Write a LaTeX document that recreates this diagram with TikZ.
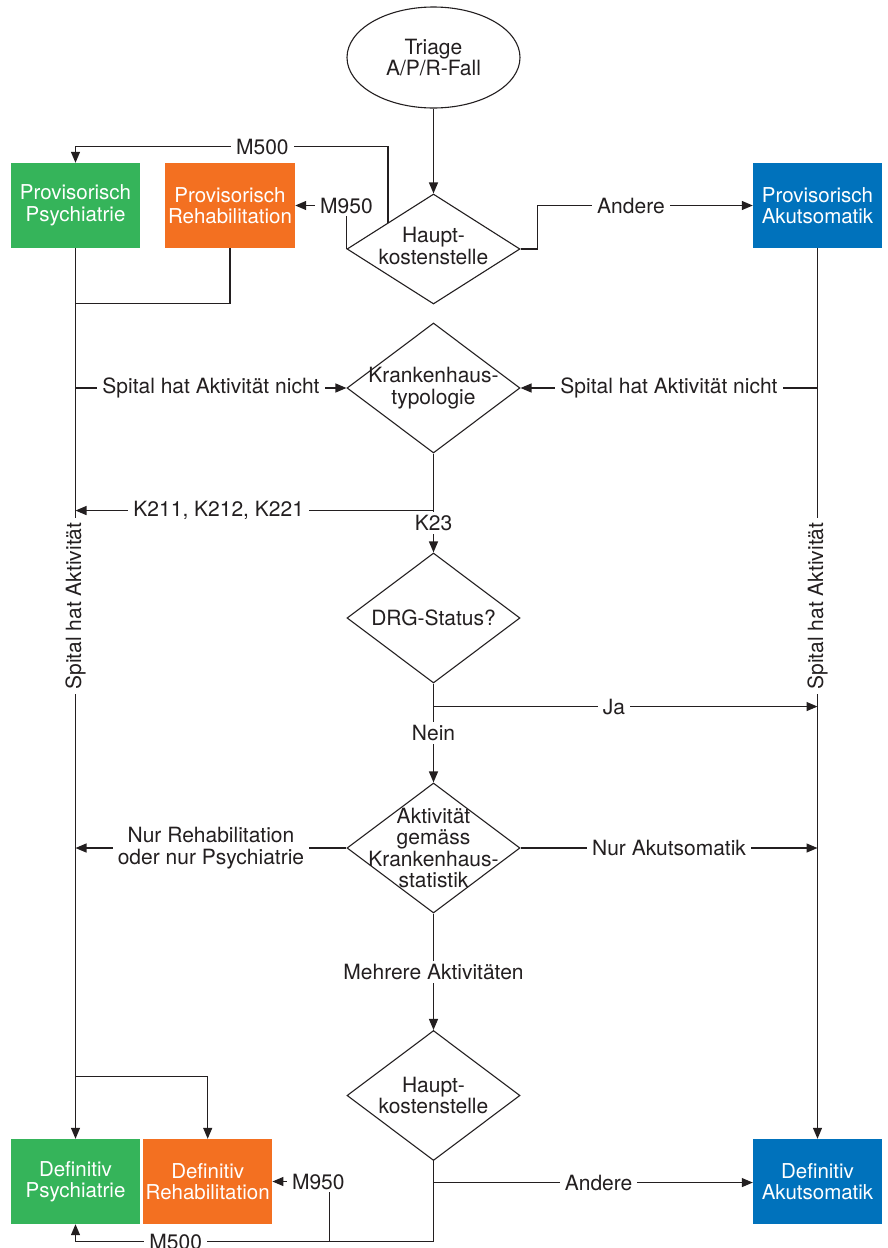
\documentclass[tikz,border=0pt]{standalone}
\usepackage{fontspec}
\setmainfont{TeX Gyre Heros}
\usetikzlibrary{shapes.geometric,arrows.meta,calc}
\definecolor{ink}{HTML}{231F20}
\definecolor{psy}{HTML}{35B45A}
\definecolor{reha}{HTML}{F37021}
\definecolor{akut}{HTML}{0072BC}
\begin{document}
\begin{tikzpicture}[x=1pt,y=-1pt,
  every node/.style={font=\fontsize{21}{21.5}\selectfont, text=ink},
  conn/.style={draw=ink, line width=1.2pt},
  arr/.style={conn, -{Triangle[length=11pt,width=9pt]}},
  lbl/.style={fill=white, inner xsep=5pt, inner ysep=3pt, align=center},
  box/.style={rectangle, minimum width=129pt, minimum height=85pt, inner sep=0pt, text=white, align=center, font=\fontsize{20.5}{21.5}\selectfont},
  dia/.style={diamond, draw=ink, line width=1.1pt, fill=white, minimum width=173pt, minimum height=130pt, inner sep=0pt},
  dtxt/.style={align=center, inner sep=0pt},
  ell/.style={ellipse, draw=ink, line width=1.1pt, fill=white, minimum width=173pt, minimum height=101pt, inner sep=0pt, align=center}]

\useasboundingbox (0,0) rectangle (888,1248);

% decision chain down the middle
\node[ell] (triage) at (433.5,57.5) {Triage\\A/P/R-Fall};
\node[dia, minimum height=110pt] (d1) at (433.5,249) {};
\node[dtxt] (d1t) at (433.5,246) {Haupt-\\kostenstelle};
\node[dia] (d2) at (433.5,388) {};
\node[dtxt] (d2t) at (d2) {Krankenhaus-\\typologie};
\node[dia] (d3) at (433.5,618) {};
\node[dtxt] (d3t) at (d3) {DRG-Status?};
\node[dia] (d4) at (433.5,848) {};
\node[dtxt] (d4t) at (d4) {Aktivität\\gemäss\\Krankenhaus-\\statistik};
\node[dia] (d5) at (433.5,1095.5) {};
\node[dtxt] (d5t) at (d5) {Haupt-\\kostenstelle};

% provisional and final classes
\node[box, fill=psy] (pp) at (75.5,205.5) {Provisorisch\\Psychiatrie};
\node[box, fill=reha, minimum width=130pt] (pr) at (230,205.5) {Provisorisch\\Rehabilitation};
\node[box, fill=akut] (pa) at (817.5,205.5) {Provisorisch\\Akutsomatik};
\node[box, fill=psy] (dp) at (75.5,1181.5) {Definitiv\\Psychiatrie};
\node[box, fill=reha] (dr) at (207.7,1181.5) {Definitiv\\Rehabilitation};
\node[box, fill=akut] (da) at (817.5,1181.5) {Definitiv\\Akutsomatik};

% first cost centre split
\draw[arr] (triage) -- (d1);
\draw[arr] (d1.east) -- ++(17,0) |- node[lbl,pos=0.717]{Andere} (pa.west);
\draw[arr] ($(d1.north)!0.523!(d1.west)$) -- ++(0,-76) -| node[lbl,pos=0.201]{M500} (pp.north);
\draw[arr] (d1.west) |- node[lbl,pos=0.5]{M950} (pr.east);

% side trunks
\draw[arr] (pp.south) -- (dp.north);
\draw[conn] (pr.south) |- ($(pp.south)+(0,55)$);
\draw[arr] (pa.south) -- (da.north);
\node[lbl, rotate=90] (sl) at (75.5,606) {Spital hat Aktivität};
\node[lbl, rotate=90] (sr) at (817.5,606) {Spital hat Aktivität};

% hospital typology
\draw[arr] (d2.west -| pp.south) -- node[lbl]{Spital hat Aktivität nicht} (d2.west);
\draw[arr] (d2.east -| pa.south) -- node[lbl]{Spital hat Aktivität nicht} (d2.east);
\coordinate (k) at ($(d2.south)+(0,57)$);
\draw[arr] (d2.south) -- (k) -- node[lbl,pos=0.6]{K211, K212, K221} (k -| pp.south);
\draw[arr] (k) -- node[lbl,pos=0.3]{K23} (d3.north);

% DRG status
\coordinate (ja) at ($(d3.south)+(0,23)$);
\draw[conn] (d3.south) -- (ja);
\draw[arr] (ja) -- node[lbl,pos=0.47]{Ja} (ja -| pa.south);
\draw[arr] (ja) -- node[lbl,pos=0.35]{Nein} (d4.north);

% activity according to hospital statistics
\draw[arr] (d4.west) -- node[lbl]{Nur Rehabilitation\\oder nur Psychiatrie} (d4.west -| pp.south);
\draw[arr] (d4.east) -- node[lbl]{Nur Akutsomatik} (d4.east -| pa.south);
\draw[arr] (d4.south) -- node[lbl]{Mehrere Aktivitäten} (d5.north);

% second cost centre split
\coordinate (an) at ($(d5.south)+(0,21.5)$);
\draw[conn] (d5.south) -- (an);
\draw[arr] (an) -- node[lbl,pos=0.517]{Andere} (an -| da.west);
\coordinate (bt) at ($(an)+(0,59)$);
\draw[arr] (an) -- (bt) -| node[lbl,pos=0.36]{M500} (dp.south);
\coordinate (m9) at ($(bt)+(-104.2,0)$);
\draw[arr] (m9) |- node[lbl,pos=0.5,xshift=-11pt]{M950} (dr.east);
\coordinate (br) at ($(dp.north)+(0,-62)$);
\draw[arr] (br) -| (dr.north);
\end{tikzpicture}
\end{document}
